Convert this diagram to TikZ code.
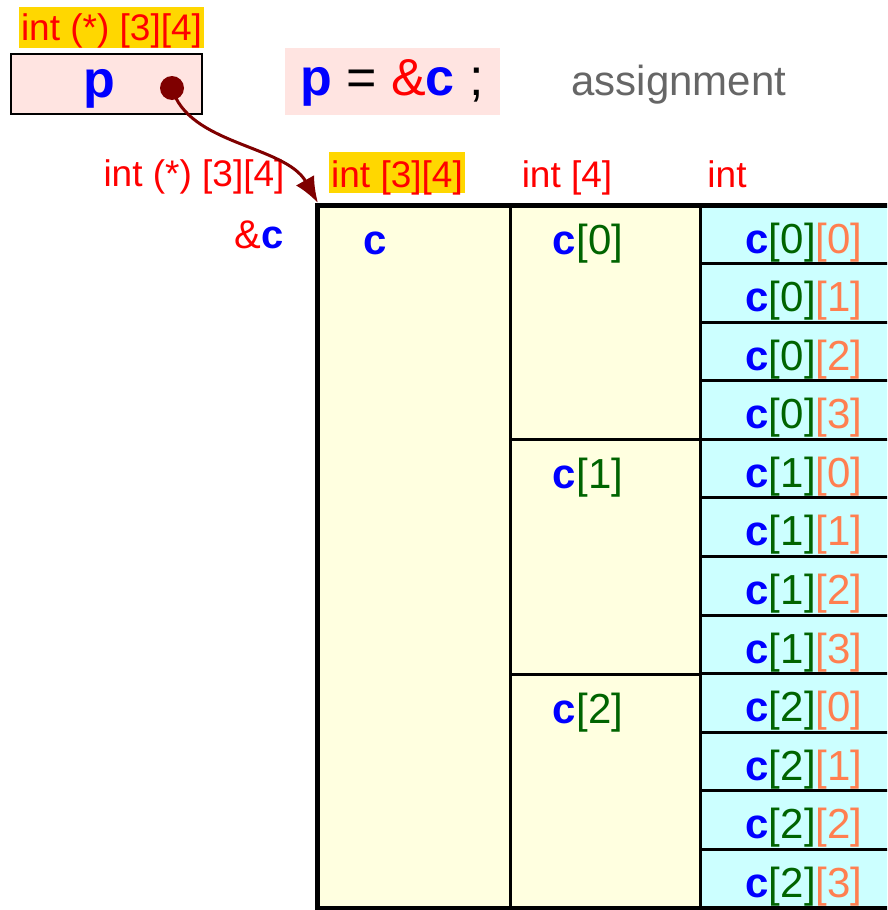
\documentclass[tikz,border=0pt]{standalone}
\usepackage{fontspec}
\setmainfont{Liberation Sans}
\usetikzlibrary{arrows.meta}
\definecolor{cblue}{HTML}{0000FF}
\definecolor{cgreen}{HTML}{006400}
\definecolor{corange}{HTML}{FF7F50}
\definecolor{cred}{HTML}{FF0000}
\definecolor{cgold}{HTML}{FFD700}
\definecolor{cpink}{HTML}{FFE4E1}
\definecolor{cyell}{HTML}{FFFFE0}
\definecolor{ccyan}{HTML}{CCFFFF}
\definecolor{cmaroon}{HTML}{7F0000}
\definecolor{cgray}{HTML}{666666}
\newcommand\cvar{\textbf{\color{cblue}c}}
\newcommand\cone[1]{\cvar{\color{cgreen}[#1]}}
\newcommand\ctwo[2]{\cvar{\color{cgreen}[#1]}{\color{corange}[#2]}}
\begin{document}
\begin{tikzpicture}[x=1pt,y=-1pt,
  hdr/.style={font=\fontsize{37}{40}\selectfont, text=cred, inner sep=0pt, anchor=base},
  celltext/.style={font=\fontsize{42}{46}\selectfont, inner sep=0pt, anchor=base},
  outerline/.style={line width=5pt, line cap=rect},
  innerline/.style={line width=3pt},
  goldbg/.style={fill=cgold, inner xsep=2pt, inner ysep=0pt},
]
\useasboundingbox (0,0) rectangle (887,910);
\clip (0,0) rectangle (887,910);

% pointer variable p
\node[hdr, goldbg, text height=33pt, text depth=8pt] (tp) at (111.5,40) {int (*) [3][4]};
\node[draw=black, line width=1.5pt, fill=cpink, minimum width=191pt, minimum height=60pt, inner sep=0pt] (pbox) at (106.5,84) {};
\node[font=\fontsize{52}{56}\selectfont\bfseries, text=cblue, inner sep=0pt, anchor=base] (pname) at (99,97) {p};
\node[circle, fill=cmaroon, minimum size=24pt, inner sep=0pt] (dot) at (172,88) {};

% statement
\node[fill=cpink, minimum width=215pt, minimum height=67pt, inner sep=0pt] (stbox) at (392.5,81.5) {};
\node[font=\fontsize{52}{56}\selectfont, inner sep=0pt, anchor=base] (stmt) at (392,95)
  {{\bfseries\color{cblue}p} = {\color{cred}\&}{\bfseries\color{cblue}c} ;};
\node[font=\fontsize{42}{46}\selectfont, text=cgray, inner sep=0pt, anchor=base] (asg) at (679,95) {assignment};

% left labels
\node[hdr] (tpc) at (194,186) {int (*) [3][4]};
\node[font=\fontsize{40}{44}\selectfont, inner sep=0pt, anchor=base] (addr) at (259,248) {{\color{cred}\&}\cvar};

% headers
\node[hdr, goldbg, text height=35pt, text depth=6pt] (h1) at (397,187) {int [3][4]};
\node[hdr] (h2) at (567,187) {int [4]};
\node[hdr] (h3) at (727,187) {int};

% fills
\fill[cyell] (317,205) rectangle (700,908);
\fill[ccyan] (700,205) rectangle (910,908);

% inner lines
\foreach \r in {1,...,11}
  \draw[innerline] (700,{205+58.58*\r}) -- (910,{205+58.58*\r});
\draw[innerline] (510,439) -- (700,439);
\draw[innerline] (510,674) -- (700,674);
\draw[innerline] (510,205) -- (510,908);
\draw[innerline] (700,205) -- (700,908);
% outer border
\coordinate (corner) at (317,205);
\draw[outerline] (910,205) -- (corner) -- (317,908) -- (910,908);

% texts in array
\node[celltext] (c) at (375,254) {\cvar};
\node[celltext] (c0) at (588,254) {\cone{0}};
\node[celltext] (c1) at (588,488) {\cone{1}};
\node[celltext] (c2) at (588,723) {\cone{2}};
\foreach \i in {0,1,2}
  \foreach \j in {0,...,3} {
    \pgfmathsetmacro\yy{205+58.58*(\i*4+\j)+48}
    \node[celltext] (c\i\j) at (804,\yy) {\ctwo{\i}{\j}};
  }

% pointer arrow
\coordinate (tip) at (318,203);
\draw[cmaroon, line width=3pt, -{Latex[length=26pt,width=21pt]}]
  (dot.center) .. controls (188,145) and (285,145) .. (tip);
\end{tikzpicture}
\end{document}
